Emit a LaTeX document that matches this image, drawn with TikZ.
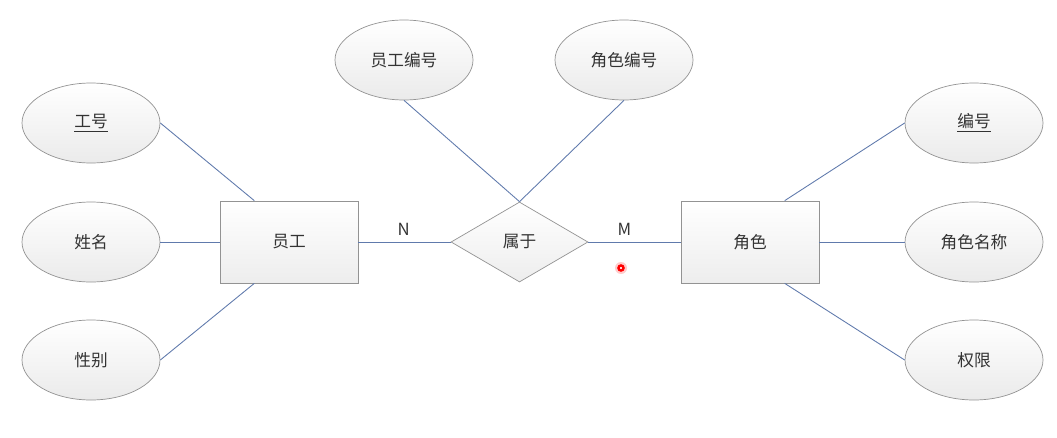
\documentclass[tikz,border=0pt]{standalone}
\usepackage{fontspec}
\setmainfont{Noto Sans CJK SC}
\usepackage{tikz}
\usetikzlibrary{positioning,shapes.geometric,calc}
\usepackage{xcolor}
\definecolor{linkblue}{RGB}{96,122,172}
\definecolor{txtgray}{RGB}{51,51,51}

\begin{document}
\begin{tikzpicture}[
    font=\fontsize{9.5}{11}\selectfont, text=txtgray,
    attr/.style={ellipse, draw=gray!85, top color=white, bottom color=gray!16,
        minimum width=2.76cm, minimum height=1.6cm, inner sep=0pt},
    entity/.style={rectangle, draw=gray!85, top color=white, bottom color=gray!14,
        minimum width=2.76cm, minimum height=1.64cm, inner sep=0pt},
    relation/.style={diamond, draw=gray!85, top color=white, bottom color=gray!14,
        minimum width=2.74cm, minimum height=1.6cm, inner sep=0pt},
    link/.style={draw=linkblue, line width=0.5pt}]
    \useasboundingbox (0,0) rectangle (21.14,8.74);

    % Entities and relation
    \node[entity] (emp) at (5.78, 3.90) {员工};
    \node[relation] (belong) at (10.39, 3.90) {属于};
    \node[entity] (role) at (15.00, 3.90) {角色};

    % Attributes of 员工
    \node[attr] (empId) at (1.82, 6.28) {\underline{工号}};
    \node[attr] (empName) at (1.82, 3.90) {姓名};
    \node[attr] (empSex) at (1.82, 1.54) {性别};

    % Attributes of 属于
    \node[attr] (eid) at (8.08, 7.54) {员工编号};
    \node[attr] (rid) at (12.48, 7.54) {角色编号};

    % Attributes of 角色
    \node[attr] (roleId) at (19.48, 6.28) {\underline{编号}};
    \node[attr] (roleName) at (19.48, 3.90) {角色名称};
    \node[attr] (perm) at (19.48, 1.54) {权限};

    % Connectors
    \draw[link] (empId.east) -- ($(emp.north west)!0.25!(emp.north east)$);
    \draw[link] (empName.east) -- (emp.west);
    \draw[link] (empSex.east) -- ($(emp.south west)!0.25!(emp.south east)$);
    \draw[link] (emp.east) -- node[pos=0.49, above=0pt, text=txtgray] (card1) {N} (belong.west);
    \draw[link] (belong.east) -- node[pos=0.39, above=0pt, text=txtgray] (card2) {M} (role.west);
    \draw[link] (eid.south) -- (belong.north);
    \draw[link] (rid.south) -- (belong.north);
    \draw[link] ($(role.north west)!0.75!(role.north east)$) -- (roleId.west);
    \draw[link] (role.east) -- (roleName.west);
    \draw[link] ($(role.south west)!0.75!(role.south east)$) -- (perm.west);

    % Pointer mark
    \fill[red!20] (12.42, 3.38) circle (0.12);
    \filldraw[fill=white, draw=red, line width=1.4pt] (12.42, 3.38) circle (0.05);
\end{tikzpicture}
\end{document}
